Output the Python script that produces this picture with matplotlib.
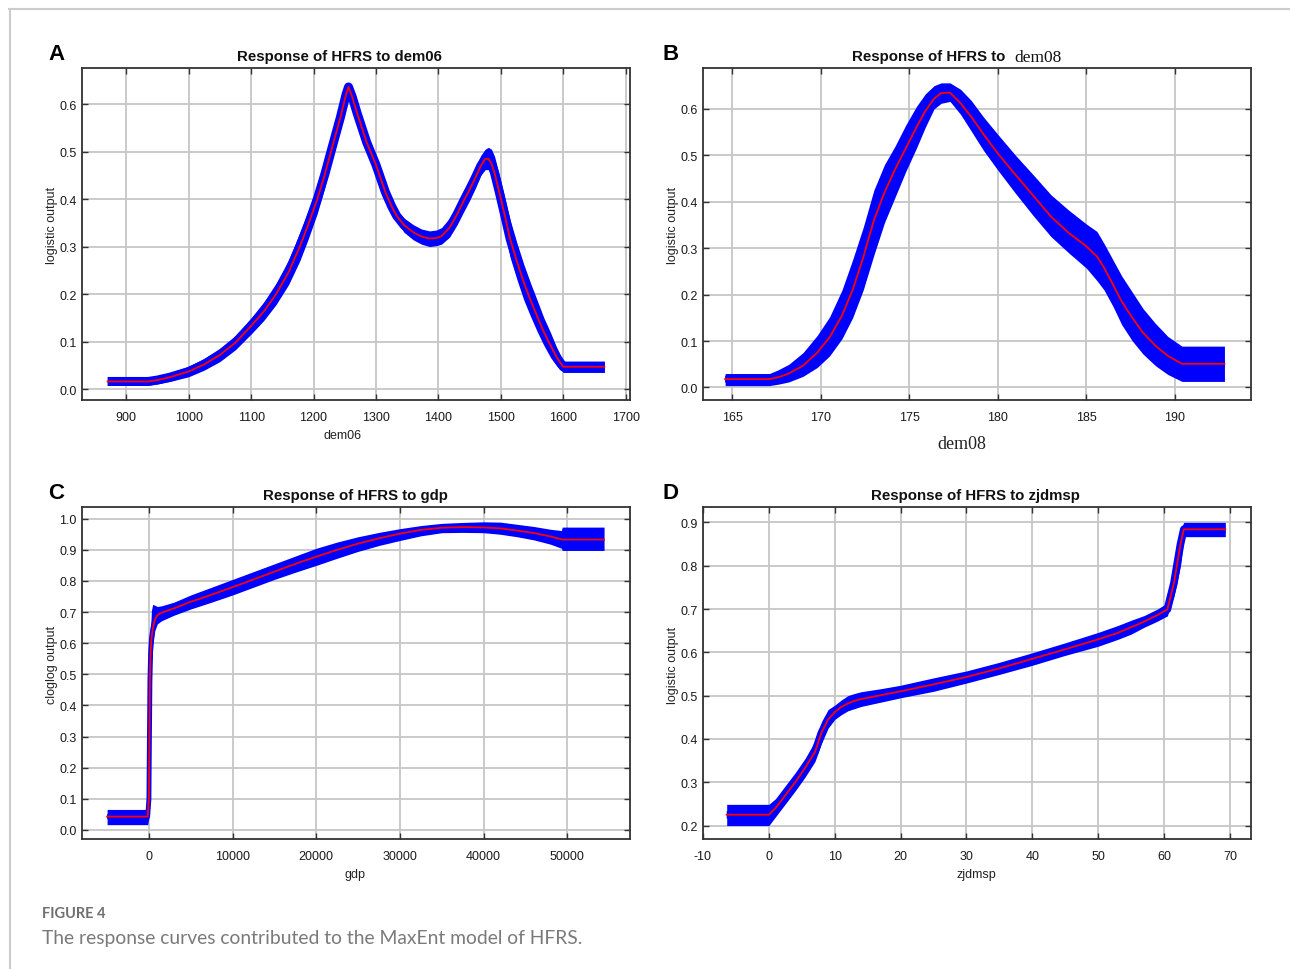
import matplotlib
matplotlib.use('Agg')
import matplotlib.pyplot as plt
from matplotlib.lines import Line2D

plt.rcParams['font.family'] = ['Liberation Sans', 'DejaVu Sans']

# ---------------- data ----------------
# Panel A: dem06
a_x = [870, 935, 950, 970, 1000, 1025, 1050, 1075, 1100, 1120, 1140, 1160, 1178, 1192, 1206, 1218, 1230,
       1243, 1252, 1256, 1262, 1270, 1285, 1300, 1315, 1325, 1333, 1345, 1360, 1373, 1386, 1397, 1405,
       1418, 1430, 1440, 1450, 1460, 1468, 1475, 1480, 1485, 1490, 1499, 1507, 1515, 1526, 1537, 1548,
       1558, 1569, 1580, 1590, 1600, 1666]
a_mean = [0.016, 0.016, 0.019, 0.025, 0.037, 0.052, 0.072, 0.098, 0.133, 0.163, 0.200, 0.246, 0.300, 0.348,
          0.400, 0.452, 0.510, 0.572, 0.620, 0.636, 0.615, 0.580, 0.520, 0.472, 0.415, 0.385, 0.365, 0.345,
          0.330, 0.321, 0.317, 0.318, 0.322, 0.340, 0.368, 0.395, 0.420, 0.447, 0.470, 0.484, 0.485, 0.475,
          0.455, 0.407, 0.362, 0.316, 0.268, 0.224, 0.186, 0.154, 0.120, 0.091, 0.066, 0.047, 0.047]
a_lo = [0.008, 0.008, 0.011, 0.016, 0.026, 0.040, 0.058, 0.083, 0.116, 0.144, 0.178, 0.220, 0.270, 0.318,
        0.370, 0.425, 0.488, 0.556, 0.608, 0.626, 0.604, 0.568, 0.508, 0.460, 0.403, 0.373, 0.352, 0.330,
        0.314, 0.305, 0.300, 0.302, 0.305, 0.320, 0.346, 0.372, 0.397, 0.425, 0.450, 0.462, 0.462, 0.450,
        0.425, 0.372, 0.325, 0.277, 0.230, 0.187, 0.152, 0.122, 0.092, 0.066, 0.048, 0.035, 0.035]
a_hi = [0.024, 0.024, 0.028, 0.034, 0.048, 0.065, 0.086, 0.113, 0.150, 0.183, 0.223, 0.272, 0.330, 0.378,
        0.430, 0.478, 0.532, 0.588, 0.632, 0.646, 0.626, 0.592, 0.532, 0.484, 0.427, 0.397, 0.377, 0.360,
        0.346, 0.337, 0.333, 0.335, 0.340, 0.360, 0.390, 0.418, 0.443, 0.470, 0.492, 0.505, 0.509, 0.505,
        0.490, 0.444, 0.400, 0.356, 0.307, 0.262, 0.222, 0.188, 0.150, 0.118, 0.086, 0.059, 0.059]

# Panel B: dem08
b_x = [164.6, 167.1, 167.6, 168.2, 169, 169.8, 170.5, 171.2, 171.8, 172.4, 173, 173.6, 174.2, 174.8, 175.4,
       175.9, 176.4, 176.8, 177.3, 177.9, 178.5, 179.2, 180, 181, 182, 183, 184, 185, 185.6, 186, 186.5,
       187, 187.6, 188.2, 188.9, 189.6, 190.4, 192.8]
b_mean = [0.018, 0.018, 0.022, 0.030, 0.047, 0.075, 0.108, 0.155, 0.210, 0.280, 0.360, 0.420, 0.470, 0.515,
          0.560, 0.595, 0.622, 0.634, 0.635, 0.612, 0.583, 0.545, 0.504, 0.458, 0.413, 0.368, 0.333, 0.304,
          0.282, 0.258, 0.222, 0.185, 0.150, 0.118, 0.090, 0.068, 0.051, 0.051]
b_lo = [0.004, 0.004, 0.007, 0.012, 0.024, 0.043, 0.068, 0.105, 0.150, 0.210, 0.285, 0.355, 0.410, 0.465,
        0.515, 0.560, 0.600, 0.612, 0.616, 0.588, 0.552, 0.510, 0.468, 0.418, 0.370, 0.325, 0.290, 0.257,
        0.230, 0.210, 0.175, 0.135, 0.100, 0.072, 0.047, 0.028, 0.013, 0.013]
b_hi = [0.030, 0.030, 0.038, 0.050, 0.075, 0.112, 0.152, 0.210, 0.275, 0.345, 0.425, 0.480, 0.520, 0.565,
        0.605, 0.632, 0.650, 0.656, 0.656, 0.642, 0.618, 0.582, 0.545, 0.500, 0.458, 0.415, 0.382, 0.352,
        0.336, 0.310, 0.275, 0.240, 0.205, 0.170, 0.138, 0.110, 0.089, 0.089]

# Panel C: gdp
c_x = [-5000, -150, 0, 60, 120, 200, 300, 450, 700, 1000, 1500, 3000, 5000, 7500, 10000, 12500, 15000,
       17500, 20000, 22500, 25000, 27500, 30000, 32500, 35000, 37500, 40000, 42000, 44000, 46000, 48000,
       49300, 49400, 54400]
c_mean = [0.043, 0.043, 0.100, 0.300, 0.480, 0.570, 0.615, 0.645, 0.675, 0.690, 0.698, 0.712, 0.733, 0.756,
          0.780, 0.805, 0.830, 0.855, 0.878, 0.900, 0.920, 0.937, 0.952, 0.964, 0.971, 0.973, 0.972, 0.969,
          0.962, 0.954, 0.943, 0.934, 0.933, 0.933]
c_lo = [0.017, 0.017, 0.040, 0.150, 0.350, 0.450, 0.530, 0.590, 0.640, 0.662, 0.672, 0.690, 0.710, 0.732,
        0.755, 0.780, 0.805, 0.828, 0.850, 0.873, 0.895, 0.914, 0.930, 0.945, 0.955, 0.956, 0.955, 0.950,
        0.942, 0.932, 0.918, 0.905, 0.898, 0.898]
c_hi = [0.066, 0.066, 0.150, 0.380, 0.560, 0.650, 0.705, 0.725, 0.722, 0.718, 0.720, 0.732, 0.755, 0.780,
        0.805, 0.830, 0.855, 0.880, 0.905, 0.925, 0.942, 0.956, 0.968, 0.978, 0.985, 0.988, 0.990, 0.989,
        0.982, 0.975, 0.966, 0.962, 0.973, 0.973]

# Panel D: zjdmsp
d_x = [-6.4, 0, 1, 2.5, 4, 5.5, 7, 8, 9, 10, 11, 12, 13, 14, 17, 20, 25, 30, 35, 40, 45, 50, 53, 55, 57,
       59, 60.5, 61.5, 62.5, 63, 69.3]
d_mean = [0.225, 0.225, 0.240, 0.270, 0.300, 0.333, 0.370, 0.415, 0.445, 0.462, 0.474, 0.482, 0.488, 0.492,
          0.501, 0.510, 0.526, 0.543, 0.563, 0.585, 0.607, 0.630, 0.645, 0.658, 0.671, 0.686, 0.699, 0.760,
          0.850, 0.884, 0.884]
d_lo = [0.200, 0.200, 0.220, 0.250, 0.280, 0.312, 0.348, 0.390, 0.425, 0.445, 0.456, 0.465, 0.470, 0.475,
        0.485, 0.495, 0.510, 0.529, 0.549, 0.570, 0.593, 0.614, 0.630, 0.642, 0.658, 0.672, 0.684, 0.730,
        0.800, 0.867, 0.867]
d_hi = [0.249, 0.249, 0.262, 0.292, 0.322, 0.355, 0.395, 0.440, 0.468, 0.478, 0.490, 0.500, 0.505, 0.509,
        0.516, 0.524, 0.541, 0.557, 0.577, 0.599, 0.622, 0.646, 0.662, 0.674, 0.685, 0.700, 0.714, 0.800,
        0.885, 0.900, 0.900]

a_xticks = [900, 1000, 1100, 1200, 1300, 1400, 1500, 1600, 1700]
a_yticks = [0.0, 0.1, 0.2, 0.3, 0.4, 0.5, 0.6]
b_xticks = [165, 170, 175, 180, 185, 190]
b_yticks = [0.0, 0.1, 0.2, 0.3, 0.4, 0.5, 0.6]
c_xticks = [0, 10000, 20000, 30000, 40000, 50000]
c_yticks = [0.0, 0.1, 0.2, 0.3, 0.4, 0.5, 0.6, 0.7, 0.8, 0.9, 1.0]
d_xticks = [-10, 0, 10, 20, 30, 40, 50, 60, 70]
d_yticks = [0.2, 0.3, 0.4, 0.5, 0.6, 0.7, 0.8, 0.9]

# ---------------- figure ----------------
W, H = 1290, 970
fig = plt.figure(figsize=(W / 100, H / 100), dpi=100)
fig.patch.set_facecolor('white')


def px_axes(l, t, r, b):
    return fig.add_axes([l / W, 1 - b / H, (r - l) / W, (b - t) / H])


def style(ax, xlim, ylim, xticks, yticks):
    ax.set_xlim(*xlim)
    ax.set_ylim(*ylim)
    ax.set_xticks(xticks)
    ax.set_xticklabels([str(v) for v in xticks])
    ax.set_yticks(yticks)
    ax.set_yticklabels([f'{v:.1f}' for v in yticks])
    ax.grid(True, color='#c6c6c6', lw=1.3)
    ax.set_axisbelow(True)
    ax.tick_params(direction='in', top=True, right=True, length=4, width=1,
                   color='#333333', labelcolor='#1a1a1a', labelsize=9)
    ax.tick_params(axis='x', pad=8)
    ax.tick_params(axis='y', pad=4)
    for s in ax.spines.values():
        s.set_color('#333333')
        s.set_linewidth(1.3)


def draw(ax, x, mean, lo, hi, lw):
    ax.fill_between(x, lo, hi, color='#0000ff', lw=0, zorder=2)
    ax.plot(x, mean, color='#0000ff', lw=lw, solid_capstyle='butt',
            solid_joinstyle='round', zorder=2)
    ax.plot(x, mean, color='#ff0000', lw=1.3, zorder=3)


def labels(ax, xlabel, ylabel, xl_x, xl_y, yl_y, xfont=None):
    kw = dict(fontsize=9, color='#222222')
    if xfont:
        ax.set_xlabel(xlabel, fontsize=13, family=xfont, color='#222222', va='center', ha='center')
    else:
        ax.set_xlabel(xlabel, va='center', ha='center', **kw)
    ax.xaxis.set_label_coords(xl_x, xl_y)
    ax.set_ylabel(ylabel, va='center', ha='center', **kw)
    ax.yaxis.set_label_coords(-0.054, yl_y)


TFS = 10.8

# Panel A
axA = px_axes(82, 69, 630, 401)
draw(axA, a_x, a_mean, a_lo, a_hi, 6.5)
style(axA, (829, 1707), (-0.023, 0.676), a_xticks, a_yticks)
labels(axA, 'dem06', 'logistic output', 0.476, -0.105, 0.53)
axA.text(0.47, 1.015, 'Response of HFRS to dem06', transform=axA.transAxes, ha='center',
         va='bottom', fontsize=TFS, fontweight='bold', color='#111111')

# Panel B
axB = px_axes(703, 69, 1251, 401)
draw(axB, b_x, b_mean, b_lo, b_hi, 5)
style(axB, (163.35, 194.3), (-0.027, 0.688), b_xticks, b_yticks)
labels(axB, 'dem08', 'logistic output', 0.4726, -0.13, 0.53, xfont='Liberation Serif')
axB.text(0.272, 1.015, 'Response of HFRS to', transform=axB.transAxes, ha='left',
         va='bottom', fontsize=TFS, fontweight='bold', color='#111111')
axB.text(0.5675, 1.010, 'dem08', transform=axB.transAxes, ha='left',
         va='bottom', fontsize=12.5, family='Liberation Serif', color='#111111')

# Panel C
axC = px_axes(82, 508, 630, 840)
draw(axC, c_x, c_mean, c_lo, c_hi, 3.5)
style(axC, (-8000, 57500), (-0.029, 1.0376), c_xticks, c_yticks)
labels(axC, 'gdp', 'cloglog output', 0.499, -0.105, 0.527)
axC.text(0.499, 1.015, 'Response of HFRS to gdp', transform=axC.transAxes, ha='center',
         va='bottom', fontsize=TFS, fontweight='bold', color='#111111')

# Panel D
axD = px_axes(703, 508, 1251, 840)
draw(axD, d_x, d_mean, d_lo, d_hi, 5.5)
style(axD, (-10, 73.2), (0.169, 0.9355), d_xticks, d_yticks)
labels(axD, 'zjdmsp', 'logistic output', 0.498, -0.105, 0.527)
axD.text(0.498, 1.015, 'Response of HFRS to zjdmsp', transform=axD.transAxes, ha='center',
         va='bottom', fontsize=TFS, fontweight='bold', color='#111111')

# Panel letters
for letter, px, py in [('A', 48, 55), ('B', 662, 55), ('C', 48, 494), ('D', 662, 494)]:
    fig.text(px / W, 1 - py / H, letter, fontsize=16, fontweight='bold', ha='left', va='center',
             color='#000000')

# Caption
fig.text(42 / W, 1 - 918 / H, 'FIGURE 4', fontsize=10.5, fontweight='bold', color='#707070',
         family=['Lato', 'DejaVu Sans'], ha='left', va='baseline')
fig.text(42 / W, 1 - 944 / H, 'The response curves contributed to the MaxEnt model of HFRS.',
         fontsize=13.9, color='#7a7a7a', family=['Lato', 'DejaVu Sans'], ha='left', va='baseline')

# Frame border lines
fig.add_artist(Line2D([9 / W, 1], [1 - 10 / H, 1 - 10 / H], transform=fig.transFigure,
                      color='#cccccc', lw=1.5))
fig.add_artist(Line2D([9.5 / W, 9.5 / W], [0, 1 - 10 / H], transform=fig.transFigure,
                      color='#cccccc', lw=1.5))

fig.savefig('out.png', dpi=100, facecolor='white')
